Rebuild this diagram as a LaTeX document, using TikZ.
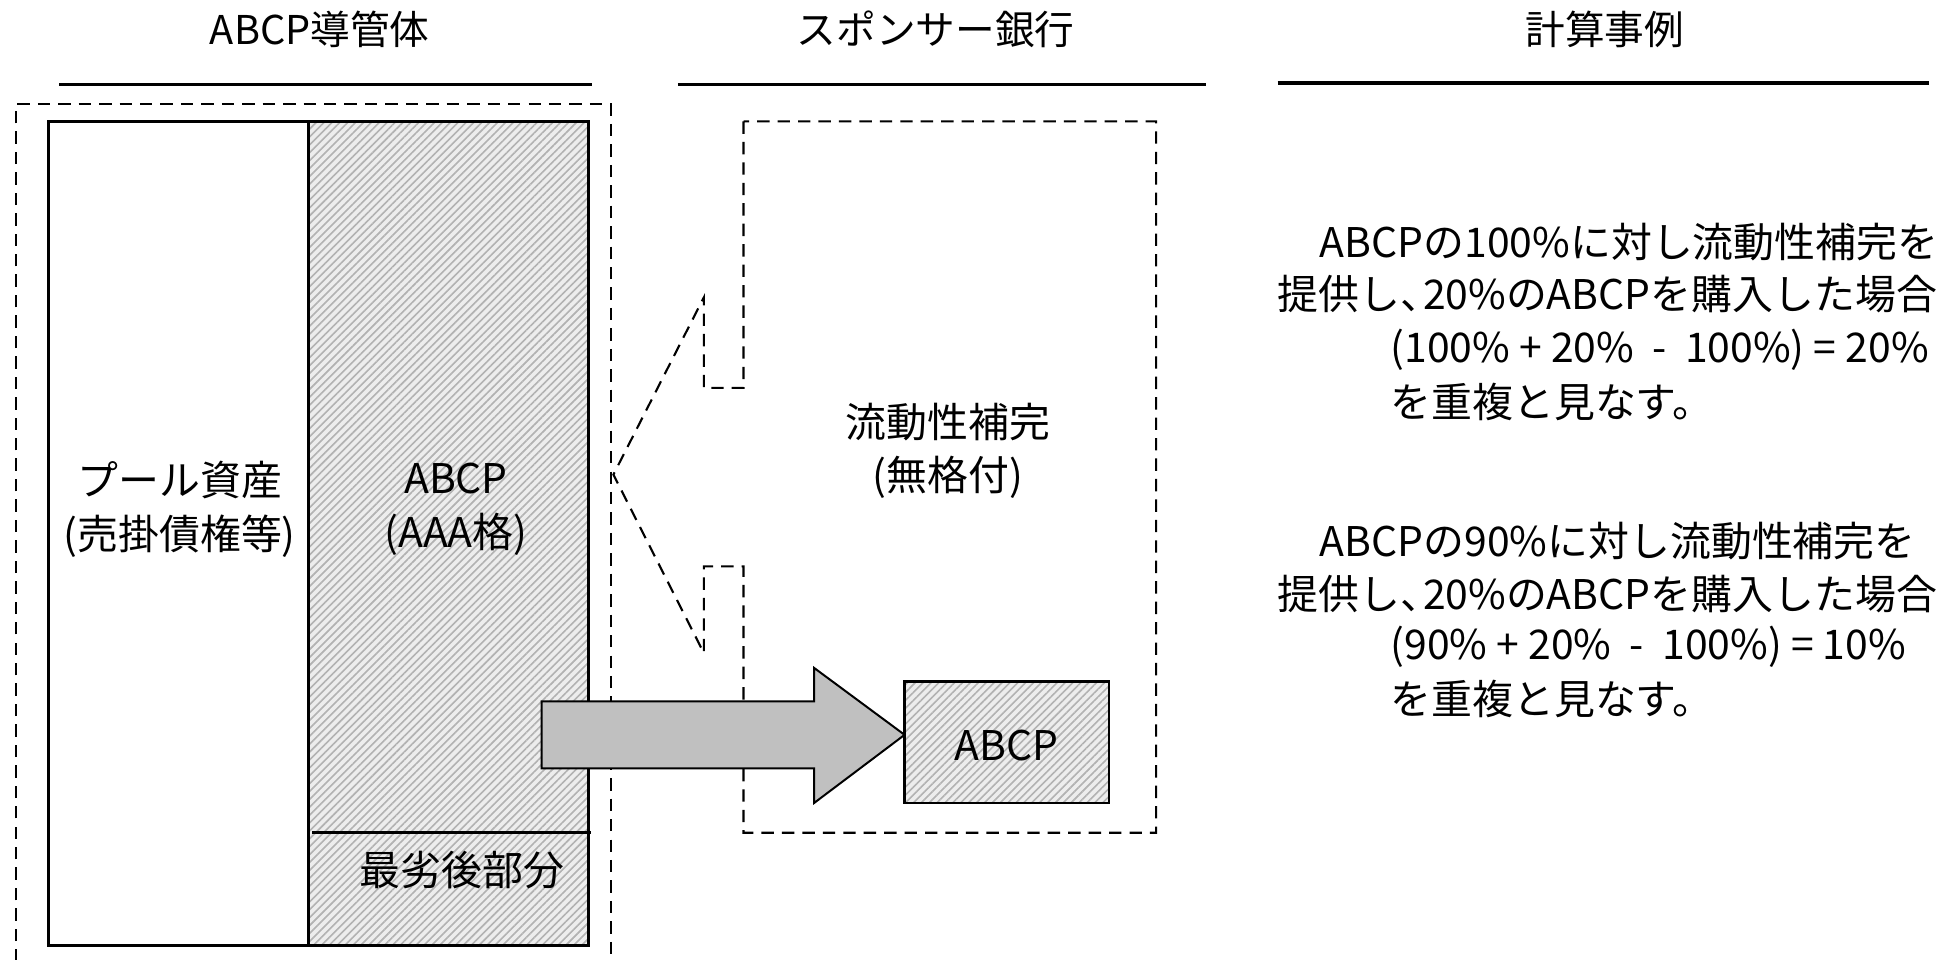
\documentclass[tikz,border=0pt]{standalone}
\usepackage{fontspec}
\setmainfont{Noto Sans CJK JP}
\usetikzlibrary{patterns.meta}
\definecolor{arrowgray}{RGB}{192,192,192}
\newcommand{\ncomma}{\makebox[0.55em][l]{、}}
\tikzset{
  hatchfill/.style={preaction={fill=gray!14}, pattern={Lines[angle=45,distance=4.5pt,line width=1.3pt]}, pattern color=gray!60},
  solidbox/.style={draw=black, line width=2pt},
  dashbox/.style={draw=black, line width=1.7pt, dash pattern=on 10pt off 6.5pt},
  hdr/.style={font=\fontsize{32}{38}\selectfont, inner sep=0pt},
  lbl/.style={font=\fontsize{33}{43}\selectfont, inner sep=0pt, align=center},
  body/.style={font=\fontsize{33}{40}\selectfont, inner sep=0pt, anchor=west},
  rulel/.style={line width=2.5pt},
  blockarrow/.style={fill=arrowgray, draw=black, line width=1.6pt, line join=miter},
}
\begin{document}
\begin{tikzpicture}[x=1pt,y=-1pt]
\useasboundingbox (0,0) rectangle (1568,774);
% headers
\node[hdr] (h1) at (258,24) {ABCP導管体};
\node[hdr] (h2) at (755,24) {スポンサー銀行};
\node[hdr] (h3) at (1295,24) {計算事例};
\coordinate (u1a) at (48,68);   \coordinate (u1b) at (478,68);
\coordinate (u2a) at (547,68);  \coordinate (u2b) at (973,68);
\coordinate (u3a) at (1031,67); \coordinate (u3b) at (1557,67);
\draw[rulel] (u1a) -- (u1b);
\draw[rulel] (u2a) -- (u2b);
\draw[rulel] (u3a) -- (u3b);

% left dashed frame (open at the bottom)
\draw[dashbox] (13,776) -- (13,84) -- (493,84) -- (493,776);

% left columns
\node[solidbox, minimum width=210pt, minimum height=665pt, inner sep=0pt] (pool) at (144,430.5) {};
\node[solidbox, hatchfill, minimum width=226pt, minimum height=665pt, inner sep=0pt] (abcpcol) at (362,430.5) {};
\coordinate (sepa) at (252,672); \coordinate (sepb) at (477,672);
\draw[line width=2pt] (sepa) -- (sepb);
\node[lbl] (poolt) at (145,411) {プール資産\\(売掛債権等)};
\node[lbl] (abcpt) at (368,411) {ABCP\\(AAA格)};
\node[lbl] (subt) at (373,702) {最劣後部分};

% sponsor bank callout
\draw[dashbox] (600,98) -- (600,313) -- (568,313) -- (568,240) -- (495,383)
  -- (568,527) -- (568,457) -- (600,457) -- (600,672) -- (933,672) -- (933,98) -- cycle;
\node[lbl] (liq) at (765,364) {流動性補完\\(無格付)};

% block arrow
\coordinate (tip) at (730,593);
\draw[blockarrow] (437,566) -- (657,566) -- (657,539) -- (tip) -- (657,648) -- (657,620) -- (437,620) -- cycle;

% purchased ABCP
\node[solidbox, hatchfill, minimum width=165pt, minimum height=98pt, inner sep=0pt] (buy) at (812.5,599) {};
\node[lbl] (buyt) at (812.5,602) {ABCP};

% calculation examples
\node[body] (a1) at (1065,195) {ABCPの100\%に対し流動性補完を};
\node[body] (a2) at (1031,237) {提供し\ncomma 20\%のABCPを購入した場合};
\node[body] (a3) at (1122,282) {(100\% + 20\%\ \ -\ \ 100\%) = 20\%};
\node[body] (a4) at (1122,324) {を重複と見なす。};
\node[body] (b1) at (1065,437) {ABCPの90\%に対し流動性補完を};
\node[body] (b2) at (1031,479) {提供し\ncomma 20\%のABCPを購入した場合};
\node[body] (b3) at (1122,522) {(90\% + 20\%\ \ -\ \ 100\%) = 10\%};
\node[body] (b4) at (1122,564) {を重複と見なす。};
\end{tikzpicture}
\end{document}
